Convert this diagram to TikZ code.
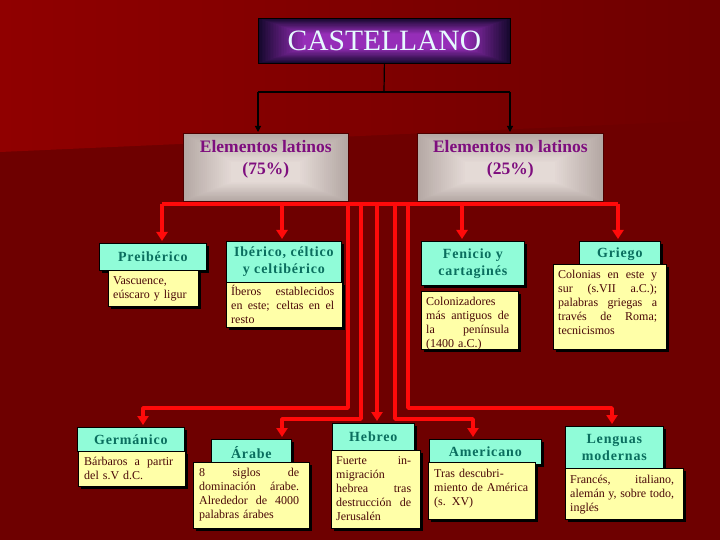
\documentclass[tikz,border=0pt]{standalone}
\usepackage{fontspec}
\setmainfont{Liberation Serif}
\usetikzlibrary{arrows.meta,shadows}
\definecolor{bgdark}{HTML}{6E0000}
\definecolor{bglight}{HTML}{900000}
\definecolor{cpurple}{HTML}{962EB8}
\definecolor{cnavy}{HTML}{16082E}
\definecolor{castext}{HTML}{E6FAFF}
\definecolor{grayin}{HTML}{E4DAD6}
\definecolor{grayout}{HTML}{B4A8A4}
\definecolor{eltextc}{HTML}{7E0E7E}
\definecolor{aqua}{HTML}{90FCD8}
\definecolor{ttext}{HTML}{0A6E5E}
\definecolor{notefill}{HTML}{FFFFA8}
\definecolor{notetextc}{HTML}{4A0808}
\definecolor{redline}{HTML}{FF0A0A}
\newcommand\titlefont{\bfseries\fontsize{14}{17}\selectfont\addfontfeature{LetterSpace=6}}
\newcommand\jl[1]{\hbox to\hsize{\strut\spaceskip=0.25em plus 1fil\relax#1}}
\newcommand\lnl[1]{\hbox{\strut#1}}
\newcommand\notelines[1]{\vtop{#1}}
\tikzset{
 castbox/.style={draw=black, line width=0.8pt, text=castext, font=\fontsize{29.5}{31}\selectfont, minimum width=252pt, minimum height=45pt, anchor=north west, inner sep=0pt,
   path picture={\foreach \i in {0,...,28}{\pgfmathtruncatemacro\pct{\i*100/28}
     \fill[cpurple!\pct!cnavy] ([shift={(\i*1.6,-\i*0.55)}]path picture bounding box.south west) rectangle ([shift={(-\i*1.6,\i*0.55)}]path picture bounding box.north east);}}},
 elbox/.style={draw=black!70!red, line width=0.6pt, minimum height=68pt, anchor=north west, inner sep=0pt,
   path picture={\foreach \i in {0,...,24}{\pgfmathtruncatemacro\pct{\i*100/24}
     \fill[grayin!\pct!grayout] ([shift={(\i*2,-\i*0.8)}]path picture bounding box.south west) rectangle ([shift={(-\i*2,\i*1.2)}]path picture bounding box.north east);}}},
 eltext/.style={text=eltextc, font=\bfseries\fontsize{17.5}{22}\selectfont, align=center, anchor=north, inner sep=0pt},
 shad/.style={drop shadow={shadow xshift=2.5pt, shadow yshift=-2.5pt, fill=black, opacity=1}},
 titlebox/.style={draw=black, line width=0.7pt, fill=aqua, shad, anchor=north west, inner sep=0pt, text=ttext, font=\titlefont, align=center},
 notebox/.style={draw=black, line width=0.7pt, fill=notefill, shad, anchor=north west, inner sep=0pt},
 notetext/.style={anchor=north west, inner sep=0pt, text=notetextc, font=\fontsize{12}{14}\selectfont},
 redl/.style={draw=redline, line width=3.5pt, line join=round},
 reda/.style={redl, -{Triangle[width=11pt,length=9pt]}, shorten >=2pt},
 blkl/.style={draw=black, line width=1.2pt},
 blka/.style={blkl, -{Triangle[width=6pt,length=6pt]}, shorten >=1pt},
}
\begin{document}
\begin{tikzpicture}[x=1pt,y=-1pt]
\useasboundingbox (0,0) rectangle (720,540);
\fill[bgdark] (0,0) rectangle (720,540);
\shade[left color=bglight, right color=bgdark] (0,0) -- (720,0) -- (720,120) -- (0,152) -- cycle;

% top boxes
\node[castbox] (cast) at (258,18) {CASTELLANO};
\node[elbox, minimum width=165pt] (lat) at (183,133) {};
\node[elbox, minimum width=186pt] (nolat) at (417,133) {};
\node[eltext] (lat-t) at ([shift={(0,7)}]lat.north) {Elementos latinos\\(75\%)};
\node[eltext] (nolat-t) at ([shift={(0,7)}]nolat.north) {Elementos no latinos\\(25\%)};

% black connectors
\coordinate (bj) at (384,92);
\coordinate (bl) at (258,92);
\coordinate (br) at (510,92);
\draw[blkl] (cast.south) -- (bj);
\draw[blkl] (bl) -- (br);
\draw[blka] (bl) -- (bl |- lat.north);
\draw[blka] (br) -- (br |- nolat.north);

% red connectors
\coordinate (jpre) at (162,204);
\coordinate (jibe) at (282,204);
\coordinate (jfen) at (462,204);
\coordinate (jgri) at (618,204);
\coordinate (j1) at (348,204);
\coordinate (j2) at (361,204);
\coordinate (j3) at (377,204);
\coordinate (j4) at (395,204);
\coordinate (j5) at (408,204);
\coordinate (kger) at (143,408);
\coordinate (kara) at (282,419);
\coordinate (kame) at (473,419);
\coordinate (klen) at (612,408);

% title boxes
\node[titlebox, minimum width=107pt, minimum height=27pt] (pre) at (99,243) {Preibérico};
\node[titlebox, minimum width=115pt, minimum height=41pt] (ibe) at (226,241) {Ibérico, céltico\\y celtibérico};
\node[titlebox, minimum width=103pt, minimum height=44pt] (fen) at (421,241) {Fenicio y\\cartaginés};
\node[titlebox, minimum width=81pt, minimum height=25pt] (gri) at (579,241) {Griego};
\node[titlebox, minimum width=107pt, minimum height=24pt] (ger) at (77,427) {Germánico};
\node[titlebox, minimum width=80pt, minimum height=26pt] (ara) at (211,439) {Árabe};
\node[titlebox, minimum width=82pt, minimum height=27pt] (heb) at (332,423) {Hebreo};
\node[titlebox, minimum width=112pt, minimum height=25pt] (ame) at (429,439) {Americano};
\node[titlebox, minimum width=98pt, minimum height=42pt] (len) at (565,426) {Lenguas\\modernas};

\draw[redl] (jpre) -- (jgri);
\draw[reda] (jpre) -- (jpre |- pre.north);
\draw[reda] (jibe) -- (jibe |- ibe.north);
\draw[reda] (jfen) -- (jfen |- fen.north);
\draw[reda] (jgri) -- (jgri |- gri.north);
\draw[reda] (j1) |- (kger) -- (kger |- ger.north);
\draw[reda] (j2) |- (kara) -- (kara |- ara.north);
\draw[reda] (j3) -- (j3 |- heb.north);
\draw[reda] (j4) |- (kame) -- (kame |- ame.north);
\draw[reda] (j5) |- (klen) -- (klen |- len.north);

% note boxes
\node[notebox, minimum width=90pt, minimum height=36pt] (pren) at (108,270) {};
\node[notebox, minimum width=116pt, minimum height=45pt] (iben) at (226,282) {};
\node[notebox, minimum width=97pt, minimum height=58pt] (fenn) at (421,291) {};
\node[notebox, minimum width=113pt, minimum height=85pt] (grin) at (553,264) {};
\node[notebox, minimum width=107pt, minimum height=35pt] (gern) at (78,451) {};
\node[notebox, minimum width=116pt, minimum height=66pt] (aran) at (193,462) {};
\node[notebox, minimum width=89pt, minimum height=78pt] (hebn) at (331,450) {};
\node[notebox, minimum width=107pt, minimum height=57pt] (amen) at (428,462) {};
\node[notebox, minimum width=118pt, minimum height=51pt] (lenn) at (565,468) {};

\node[notetext, text width=80pt] (pren-t) at ([shift={(5,4)}]pren.north west) {\notelines{\lnl{Vascuence,}\lnl{eúscaro y ligur}}};
\node[notetext, text width=103pt] (iben-t) at ([shift={(5,3)}]iben.north west) {\notelines{\jl{Íberos establecidos}\jl{en este; celtas en el}\lnl{resto}}};
\node[notetext, text width=83pt] (fenn-t) at ([shift={(5,4)}]fenn.north west) {\notelines{\lnl{Colonizadores}\jl{más antiguos de}\jl{la península}\lnl{(1400 a.C.)}}};
\node[notetext, text width=99pt] (grin-t) at ([shift={(5,4)}]grin.north west) {\notelines{\jl{Colonias en este y}\jl{sur (s.VII a.C.);}\jl{palabras griegas a}\jl{través de Roma;}\lnl{tecnicismos}}};
\node[notetext, text width=89pt] (gern-t) at ([shift={(6,4)}]gern.north west) {\notelines{\jl{Bárbaros a partir}\lnl{del s.V d.C.}}};
\node[notetext, text width=100pt] (aran-t) at ([shift={(6,4)}]aran.north west) {\notelines{\jl{8 siglos de}\jl{dominación árabe.}\jl{Alrededor de 4000}\lnl{palabras árabes}}};
\node[notetext, text width=75pt] (hebn-t) at ([shift={(5,4)}]hebn.north west) {\notelines{\jl{Fuerte in-}\lnl{migración}\jl{hebrea tras}\jl{destrucción de}\lnl{Jerusalén}}};
\node[notetext, text width=95pt] (amen-t) at ([shift={(6,5)}]amen.north west) {\notelines{\lnl{Tras descubri-}\lnl{miento de América}\lnl{(s. XV)}}};
\node[notetext, text width=104pt] (lenn-t) at ([shift={(5,5)}]lenn.north west) {\notelines{\jl{Francés, italiano,}\jl{alemán y, sobre todo,}\lnl{inglés}}};
\end{tikzpicture}
\end{document}
